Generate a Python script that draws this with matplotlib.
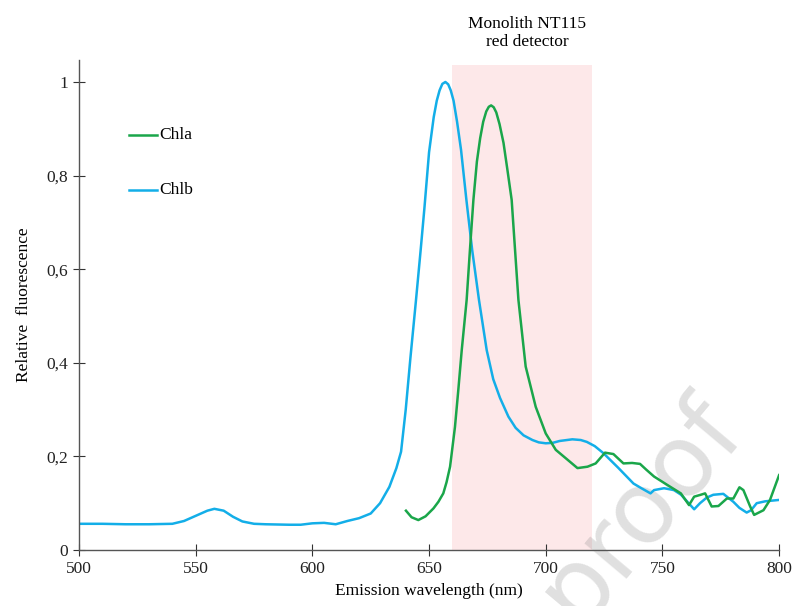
import matplotlib
matplotlib.use('Agg')
import matplotlib.pyplot as plt
from matplotlib.ticker import FuncFormatter

# ==============================================================================
# DATA
# ==============================================================================

chlb_nm = [500, 510, 520, 530, 540, 545, 550, 555, 558, 562, 566, 570, 575, 580,
           590, 595, 600, 605, 610, 615, 620, 625, 629, 633, 636, 638, 640, 642,
           644.4, 646.4, 648, 650, 652, 653.3, 654.5, 655.7, 657, 658.2, 659.3,
           660.5, 662, 663.7, 666, 668.5, 671.4, 674.7, 677.5, 680.4, 684, 687.1,
           690.5, 694.3, 697, 700, 703, 706, 711.4, 715, 717.6, 721, 724.7, 731,
           737.6, 741, 744.9, 746.4, 750.7, 755, 758, 760.7, 763.6, 766.1, 769,
           771.8, 776.1, 780.4, 783, 786.1, 788, 790.4, 794, 800]
chlb_val = [0.056, 0.056, 0.055, 0.055, 0.056, 0.062, 0.073, 0.084, 0.088, 0.084,
            0.071, 0.061, 0.056, 0.055, 0.054, 0.054, 0.057, 0.058, 0.055, 0.062,
            0.068, 0.078, 0.100, 0.135, 0.175, 0.210, 0.300, 0.410, 0.534, 0.641,
            0.730, 0.850, 0.925, 0.960, 0.982, 0.996, 1.000, 0.995, 0.982, 0.960,
            0.915, 0.855, 0.748, 0.640, 0.534, 0.427, 0.365, 0.325, 0.285, 0.261,
            0.245, 0.235, 0.230, 0.228, 0.229, 0.233, 0.2365, 0.235, 0.231, 0.222,
            0.207, 0.176, 0.142, 0.132, 0.121, 0.128, 0.132, 0.128, 0.118, 0.103,
            0.087, 0.100, 0.112, 0.118, 0.120, 0.103, 0.090, 0.080, 0.085, 0.100,
            0.104, 0.107]

chla_nm = [640.1, 642.5, 645.4, 648.5, 651.9, 654, 656.1, 657.5, 659, 661.1, 662.5,
           664, 666.1, 667.5, 669, 670.5, 671.9, 673.2, 674.5, 675.6, 676.6, 677.7,
           678.8, 680.2, 681.9, 683.5, 685.4, 688.3, 691.4, 695.7, 700, 704.3,
           708.6, 713.6, 717.9, 721.4, 725.4, 729, 733.3, 737, 740.4, 743, 746.4,
           752.1, 757.9, 761.4, 763.6, 766.4, 768.3, 771.1, 774, 777.6, 780.4, 783,
           784.7, 787.6, 789.3, 793.3, 796.1, 800]
chla_val = [0.084, 0.070, 0.064, 0.072, 0.089, 0.103, 0.121, 0.145, 0.178, 0.263,
            0.340, 0.427, 0.534, 0.640, 0.748, 0.830, 0.880, 0.915, 0.937, 0.947,
            0.950, 0.946, 0.935, 0.910, 0.870, 0.815, 0.748, 0.534, 0.392, 0.306,
            0.249, 0.214, 0.196, 0.175, 0.178, 0.185, 0.208, 0.205, 0.185, 0.186,
            0.184, 0.172, 0.157, 0.139, 0.121, 0.096, 0.114, 0.118, 0.121, 0.093,
            0.094, 0.110, 0.110, 0.134, 0.128, 0.093, 0.075, 0.085, 0.107, 0.160]

series_names = ['Chla', 'Chlb']
series_colors = ['#1aa64a', '#13aee8']
band_nm = (660, 720)
band_label = 'Monolith NT115\nred detector'

x_ticks = [500, 550, 600, 650, 700, 750, 800]
y_ticks = [0, 0.2, 0.4, 0.6, 0.8, 1.0]

# ==============================================================================
# PLOT
# ==============================================================================

plt.rcParams['font.family'] = ['Liberation Serif', 'DejaVu Serif']
plt.rcParams['font.size'] = 12.5

fig = plt.figure(figsize=(7.95, 6.06), dpi=100)
ax = fig.add_axes([0.0994, 0.0924, 0.8806, 0.8086])

ax.axvspan(band_nm[0], band_nm[1], ymin=0, ymax=1.036 / 1.047,
           color='#fde8e9', lw=0, zorder=0)
ax.text(sum(band_nm) / 2 + 2, 1.105, band_label, ha='center', va='center',
        fontsize=12.5, linespacing=1.15)

ax.plot(chla_nm, chla_val, color=series_colors[0], lw=1.8, zorder=3,
        solid_joinstyle='round')
ax.plot(chlb_nm, chlb_val, color=series_colors[1], lw=1.8, zorder=2,
        solid_joinstyle='round')

# legend drawn by hand, like the reference
for i, (name, col) in enumerate(zip(series_names, series_colors)):
    yy = 0.887 - i * 0.118
    ax.plot([521.4, 533.5], [yy, yy], color=col, lw=1.8)
    ax.text(534.5, yy, name, va='center', ha='left', fontsize=12.5)

ax.set_xlim(500, 800)
ax.set_ylim(0, 1.047)
ax.set_xticks(x_ticks)
ax.set_yticks(y_ticks)
ax.yaxis.set_major_formatter(FuncFormatter(
    lambda v, p: '0' if v == 0 else ('1' if v == 1 else f'{v:.1f}'.replace('.', ','))))
ax.tick_params(direction='inout', length=8, width=0.8, colors='#333333',
               labelcolor='#222222', labelsize=12.5, pad=4)
for s in ['top', 'right']:
    ax.spines[s].set_visible(False)
for s in ['left', 'bottom']:
    ax.spines[s].set_color('#555555')
    ax.spines[s].set_linewidth(1.0)

ax.set_xlabel('Emission wavelength (nm)', fontsize=12.5, labelpad=4)
ax.set_ylabel('Relative  fluorescence', fontsize=12.5, labelpad=10)

# faint watermark, above the band but under the curves
ax.text(0.805, 0.16, 'proof', transform=fig.transFigure, rotation=50,
        fontsize=72, color='#888888', alpha=0.26, family='DejaVu Sans',
        ha='center', va='center', zorder=1, clip_on=False)

fig.savefig('out.png', dpi=100)
